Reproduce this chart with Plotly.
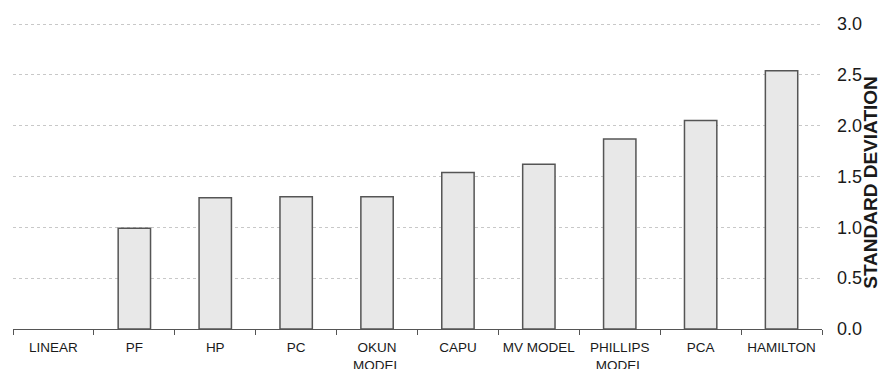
import plotly.graph_objects as go

# Categories and values
models = ["LINEAR", "PF", "HP", "PC", "OKUN<br>MODEL", "CAPU",
          "MV MODEL", "PHILLIPS<br>MODEL", "PCA", "HAMILTON"]
std_dev = [None, 0.99, 1.29, 1.30, 1.30, 1.54, 1.62, 1.87, 2.05, 2.54]

y_ticks = [0.0, 0.5, 1.0, 1.5, 2.0, 2.5, 3.0]

fig = go.Figure()

fig.add_trace(go.Bar(
    x=models,
    y=std_dev,
    width=0.4,
    marker=dict(color="#e8e8e8", line=dict(color="#555555", width=1.5)),
))

# page body adds an 8px offset, so the figure is a bit smaller than the window
fig.update_layout(
    width=879,
    height=361,
    margin=dict(l=5, r=65, t=14, b=40),
    paper_bgcolor="white",
    plot_bgcolor="white",
    showlegend=False,
    font=dict(family="Liberation Sans, Arial, sans-serif", color="#1a1a1a"),
)

fig.update_xaxes(
    automargin=False,
    showline=True,
    linecolor="#555555",
    linewidth=1,
    ticks="outside",
    tickson="boundaries",
    ticklen=5,
    tickcolor="#555555",
    showgrid=False,
    tickfont=dict(size=13.5, color="#1a1a1a"),
    tickangle=0,
    ticklabelstandoff=6,
)

fig.update_yaxes(
    automargin=False,
    side="right",
    range=[0, 3.02],
    tickvals=y_ticks,
    ticktext=[f"{v:.1f}" for v in y_ticks],
    tickfont=dict(size=18, color="#1a1a1a"),
    ticklabelstandoff=14,
    showgrid=True,
    gridcolor="#c8c8c8",
    griddash="dot",
    gridwidth=1,
    zeroline=False,
    showline=False,
)

fig.add_annotation(
    text="<b>STANDARD DEVIATION</b>",
    xref="paper", yref="paper",
    x=1.0, y=0.478,
    xanchor="right", yanchor="middle",
    xshift=61,
    textangle=-90,
    showarrow=False,
    font=dict(size=19, color="#1a1a1a"),
)

fig.write_html("out.html")
